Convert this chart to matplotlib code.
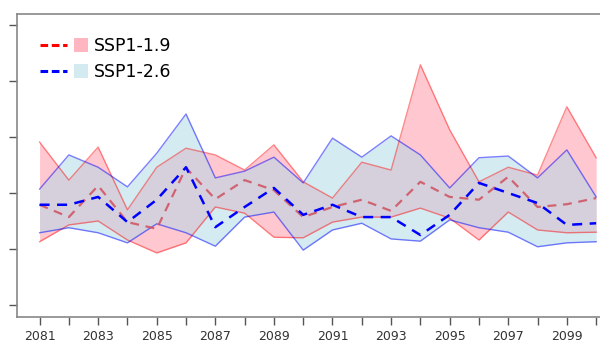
import numpy as np
import matplotlib
matplotlib.use("Agg")
import matplotlib.pyplot as plt
from matplotlib.lines import Line2D
from matplotlib.patches import Rectangle
from matplotlib.legend_handler import HandlerBase

years = np.arange(2081, 2101)

ssp119_hi = [2.91, 2.23, 2.82, 1.70, 2.46, 2.80, 2.68, 2.41, 2.86, 2.20,
             1.91, 2.55, 2.41, 4.29, 3.13, 2.20, 2.46, 2.32, 3.54, 2.63]
ssp119_lo = [1.13, 1.43, 1.50, 1.16, 0.93, 1.11, 1.75, 1.64, 1.21, 1.20,
             1.48, 1.57, 1.57, 1.73, 1.55, 1.16, 1.66, 1.34, 1.29, 1.30]
ssp119_mean = [1.79, 1.57, 2.13, 1.48, 1.36, 2.45, 1.89, 2.23, 2.05, 1.57,
               1.75, 1.88, 1.68, 2.20, 1.93, 1.88, 2.29, 1.75, 1.80, 1.91]

ssp126_hi = [2.07, 2.68, 2.46, 2.11, 2.71, 3.41, 2.27, 2.39, 2.64, 2.18,
             2.98, 2.64, 3.02, 2.68, 2.09, 2.63, 2.66, 2.27, 2.77, 1.93]
ssp126_lo = [1.29, 1.38, 1.29, 1.11, 1.45, 1.29, 1.05, 1.57, 1.66, 0.98,
             1.34, 1.46, 1.18, 1.14, 1.52, 1.38, 1.30, 1.04, 1.11, 1.13]
ssp126_mean = [1.79, 1.79, 1.93, 1.48, 1.88, 2.46, 1.39, 1.75, 2.09, 1.61,
               1.79, 1.57, 1.57, 1.25, 1.61, 2.18, 2.00, 1.82, 1.43, 1.46]

labels = ['SSP1-1.9', 'SSP1-2.6']


class LineSquareHandler(HandlerBase):
    # dashed line followed by a small square swatch
    def create_artists(self, legend, orig_handle, xdescent, ydescent,
                       width, height, fontsize, trans):
        lc, pc = orig_handle
        y = height / 2 - ydescent
        side = 10
        x0 = -xdescent
        ln = Line2D([x0, x0 + width - side - 5], [y, y], color=lc,
                    ls=(0, (2.5, 1.2)), lw=2.2, transform=trans)
        sq = Rectangle((x0 + width - side, y - side / 2), side, side,
                       facecolor=pc, edgecolor='none', transform=trans)
        return [ln, sq]


fig = plt.figure(figsize=(6, 3.6), dpi=100)
ax = fig.add_axes([17/600, 1-317/360, 585/600, 303/360])

# shaded ranges
ax.fill_between(years, ssp119_lo, ssp119_hi, color='#ffb6c1', alpha=0.75, lw=0)
ax.plot(years, ssp119_hi, color='red', alpha=0.45, lw=1)
ax.plot(years, ssp119_lo, color='red', alpha=0.45, lw=1)
ax.fill_between(years, ssp126_lo, ssp126_hi, color='#add8e6', alpha=0.5, lw=0)
ax.plot(years, ssp126_hi, color='blue', alpha=0.5, lw=1)
ax.plot(years, ssp126_lo, color='blue', alpha=0.5, lw=1)

# means
ax.plot(years, ssp119_mean, color='#d05060', ls=(0, (4, 3)), lw=1.6, alpha=0.85)
ax.plot(years, ssp126_mean, color='blue', ls=(0, (4, 3)), lw=1.8)

ax.set_xlim(2080.23, 2100.2)
ax.set_ylim(-0.214, 5.196)
ax.set_xticks(years)
ax.set_xticklabels([str(y) if y % 2 == 1 else '' for y in years])
ax.set_yticks(np.arange(0, 6))
ax.set_yticklabels([])
ax.tick_params(colors='#555555', labelcolor='#333333', labelsize=9,
               direction='out', length=6, width=1)
for s in ['left', 'top', 'bottom']:
    ax.spines[s].set_color('#888888')
    ax.spines[s].set_linewidth(1.2)
ax.spines['right'].set_visible(False)

handles = [('red', '#ffb6c1'), ('blue', '#d3eaf1')]
ax.legend(handles, labels, handler_map={tuple: LineSquareHandler()},
          loc='upper left', bbox_to_anchor=(0.012, 0.975), frameon=False,
          fontsize=12.5, handlelength=2.8, handleheight=1.0,
          labelspacing=0.45, handletextpad=0.35)

fig.savefig('out.png', dpi=100)
